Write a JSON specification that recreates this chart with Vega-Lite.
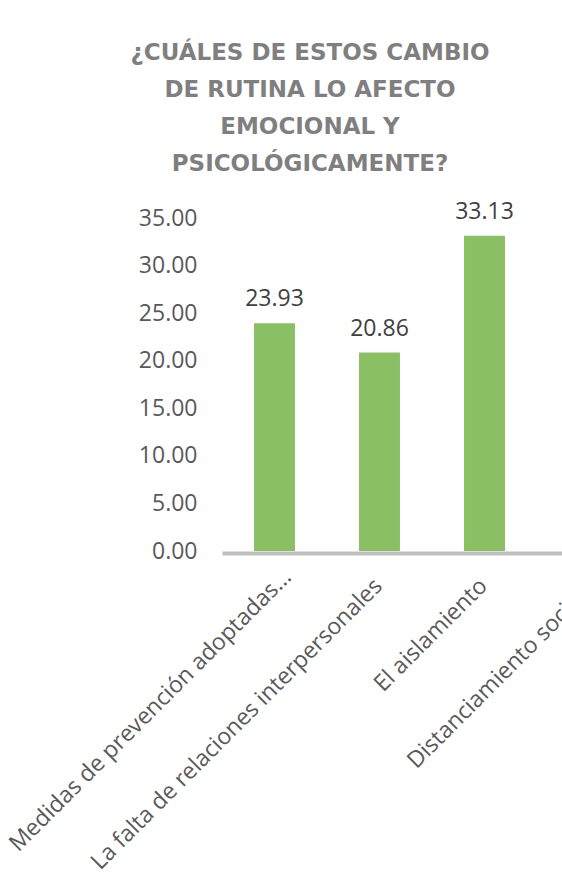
{
  "$schema": "https://vega.github.io/schema/vega-lite/v6.json",
  "width": 340,
  "height": 333,
  "autosize": {"type": "none"},
  "padding": {"left": 222, "top": 218, "right": 0, "bottom": 341},
  "background": "white",
  "title": {
    "text": ["¿CUÁLES DE ESTOS CAMBIO", "DE RUTINA LO AFECTO", "EMOCIONAL Y", "PSICOLÓGICAMENTE?"],
    "anchor": "start",
    "align": "center",
    "dx": 88,
    "frame": "group",
    "offset": 25,
    "font": "DejaVu Sans",
    "fontWeight": "bold",
    "fontSize": 23,
    "color": "#7f7f7f",
    "lineHeight": 37
  },
  "data": {
    "values": [
      {"cambio": "Medidas de prevención adoptadas...", "porcentaje": 23.93},
      {"cambio": "La falta de relaciones interpersonales", "porcentaje": 20.86},
      {"cambio": "El aislamiento", "porcentaje": 33.13}
    ]
  },
  "encoding": {
    "x": {
      "field": "cambio",
      "type": "nominal",
      "sort": null,
      "scale": {
        "domain": ["Medidas de prevención adoptadas...", "La falta de relaciones interpersonales", "El aislamiento", "Distanciamiento social"],
        "range": [0, 420],
        "paddingInner": 0.61,
        "paddingOuter": 0.305
      },
      "axis": {
        "title": null,
        "labelAngle": -45,
        "labelAlign": "right",
        "labelBaseline": "alphabetic",
        "labelPadding": {
          "condition": [
            {"test": "datum.value === 'Medidas de prevención adoptadas...'", "value": 25},
            {"test": "datum.value === 'Distanciamiento social'", "value": 46}
          ],
          "value": 34
        },
        "labelOffset": {
          "condition": [
            {"test": "datum.value === 'Medidas de prevención adoptadas...'", "value": 18},
            {"test": "datum.value === 'Distanciamiento social'", "value": -3}
          ],
          "value": 4
        },
        "ticks": false,
        "tickSize": 0,
        "domainColor": "#bfbfbf",
        "domainWidth": 4,
        "offset": 2,
        "labelFont": "Open Sans",
        "labelFontSize": 23,
        "labelColor": "#595959",
        "labelLimit": 0,
        "labelOverlap": false,
        "labelFlush": false
      }
    },
    "y": {
      "field": "porcentaje",
      "type": "quantitative",
      "scale": {"domain": [0, 35]},
      "axis": {
        "title": null,
        "values": [0, 5, 10, 15, 20, 25, 30, 35],
        "format": ".2f",
        "domain": false,
        "ticks": false,
        "tickSize": 0,
        "grid": false,
        "labelPadding": 25,
        "labelFont": "Open Sans",
        "labelFontSize": 23,
        "labelColor": "#595959"
      }
    }
  },
  "layer": [
    {"mark": {"type": "bar", "color": "#8abf64"}},
    {
      "mark": {"type": "text", "baseline": "alphabetic", "dy": -17, "font": "Open Sans", "fontSize": 23, "color": "#404040"},
      "encoding": {"text": {"field": "porcentaje", "type": "quantitative", "format": ".2f"}}
    }
  ],
  "config": {"view": {"stroke": null}}
}
